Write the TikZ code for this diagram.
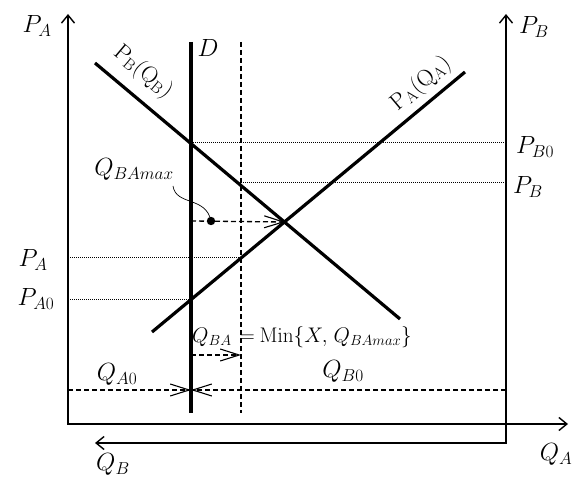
\documentclass[tikz,border=0pt]{standalone}
\usetikzlibrary{arrows.meta}
\DeclareMathSizes{27}{27}{17}{13}
\newcommand\subr[1]{_{\raisebox{1.8pt}{$\scriptstyle #1$}}}
\begin{document}
\begin{tikzpicture}[x=1pt,y=-1pt,
  lab/.style={font=\fontsize{27}{32}\selectfont, inner sep=1pt},
  axis/.style={line width=1.5pt},
  curve/.style={line width=3.2pt},
  dotl/.style={line width=1pt, densely dotted},
  dashl/.style={line width=1.3pt, dash pattern=on 5pt off 3pt},
  barbtip/.style={-{Straight Barb[length=19pt,width=12pt,line width=1.1pt]}},
  axtip/.tip={Straight Barb[length=8pt,width=13pt,line width=1.4pt]}
]
\useasboundingbox (0,0) rectangle (573,481);
% axes
\coordinate (Ltop) at (68,14);
\coordinate (O) at (68,424);
\coordinate (Xend) at (568,424);
\coordinate (Rtop) at (506,14);
\coordinate (Rbot) at (506,443);
\coordinate (QBend) at (95,443);
\draw[axis,axtip-axtip] (Ltop) -- (O) -- (Xend);
\draw[axis,axtip-axtip] (Rtop) -- (Rbot) -- (QBend);
% vertical lines
\coordinate (Dt) at (191,42);
\coordinate (Db) at (191,413);
\coordinate (Xt) at (241,42);
\coordinate (Xb) at (241,413);
\draw[curve] (Dt) -- (Db);
\draw[dashl] (Xt) -- (Xb);
% dotted levels
\coordinate (pb0l) at (191,143);
\coordinate (pb0r) at (506,143);
\coordinate (pbl) at (241,183);
\coordinate (pbr) at (506,183);
\coordinate (pal) at (68,258);
\coordinate (par) at (241,258);
\coordinate (pa0l) at (68,299);
\coordinate (pa0r) at (191,299);
\draw[dotl] (pb0l) -- (pb0r);
\draw[dotl] (pbl) -- (pbr);
\draw[dotl] (pal) -- (par);
\draw[dotl] (pa0l) -- (pa0r);
% demand/supply lines
\coordinate (PBs) at (95,63);
\coordinate (PBe) at (400,319);
\coordinate (PAs) at (152,332);
\coordinate (PAe) at (465,72);
\coordinate (E) at (285,222);
\draw[curve] (PBs) -- (PBe);
\draw[curve] (PAs) -- (PAe);
% QBAmax arrow
\coordinate (m1) at (191,221);
\coordinate (dot) at (211,221);
\draw[dashl,barbtip] (m1) -- (E);
\fill (dot) circle (4.2);
% QBA arrow
\coordinate (q1) at (191,355);
\coordinate (q2) at (241,355);
\draw[dashl,barbtip] (q1) -- (q2);
% QA0 / QB0
\coordinate (a0l) at (68,390);
\coordinate (a0m) at (191,390);
\coordinate (b0r) at (506,390);
\draw[dashl,barbtip] (a0l) -- (a0m);
\draw[dashl,barbtip] (b0r) -- (a0m);
% labels
\node[lab] (lpa) at (37,27) {$P\subr{A}$};
\node[lab] (lpb) at (534,28) {$P\subr{B}$};
\node[lab] (ld) at (208,48) {$D$};
\node[lab,rotate=-40] (lpbq) at (143,72) {\scalebox{0.93}{$\mathrm{P\subr{\mathrm{B}}(Q\subr{\mathrm{B}})}$}};
\node[lab,rotate=40] (lpaq) at (421,84) {\scalebox{0.93}{$\mathrm{P\subr{\mathrm{A}}(Q\subr{\mathrm{A}})}$}};
\node[lab] (lpb0) at (535,148) {$P\subr{B0}$};
\node[lab] (lpb1) at (528,188) {$P\subr{B}$};
\node[lab] (lpa1) at (33,261) {$P\subr{A}$};
\node[lab] (lpa0) at (36,300) {$P\subr{A0}$};
\node[lab] (lqa0) at (117,375) {$Q\subr{A0}$};
\node[lab] (lqb0) at (343,372) {$Q\subr{B0}$};
\node[lab] (lqa) at (556,455) {$Q\subr{A}$};
\node[lab] (lqb) at (113,465) {$Q\subr{B}$};
\node[lab] (lmax) at (134,170) {$Q\subr{BAmax}$};
\node[lab] (lqba) at (302,337) {\scalebox{0.85}{$Q\subr{BA}\mskip7mu{=}\mskip4mu\mathrm{Min}\{X,\mskip2mu Q\subr{BAmax}\}$}};
\draw[line width=0.7pt] (173,186) .. controls (176,206) and (206,196) .. (dot);
\end{tikzpicture}
\end{document}
